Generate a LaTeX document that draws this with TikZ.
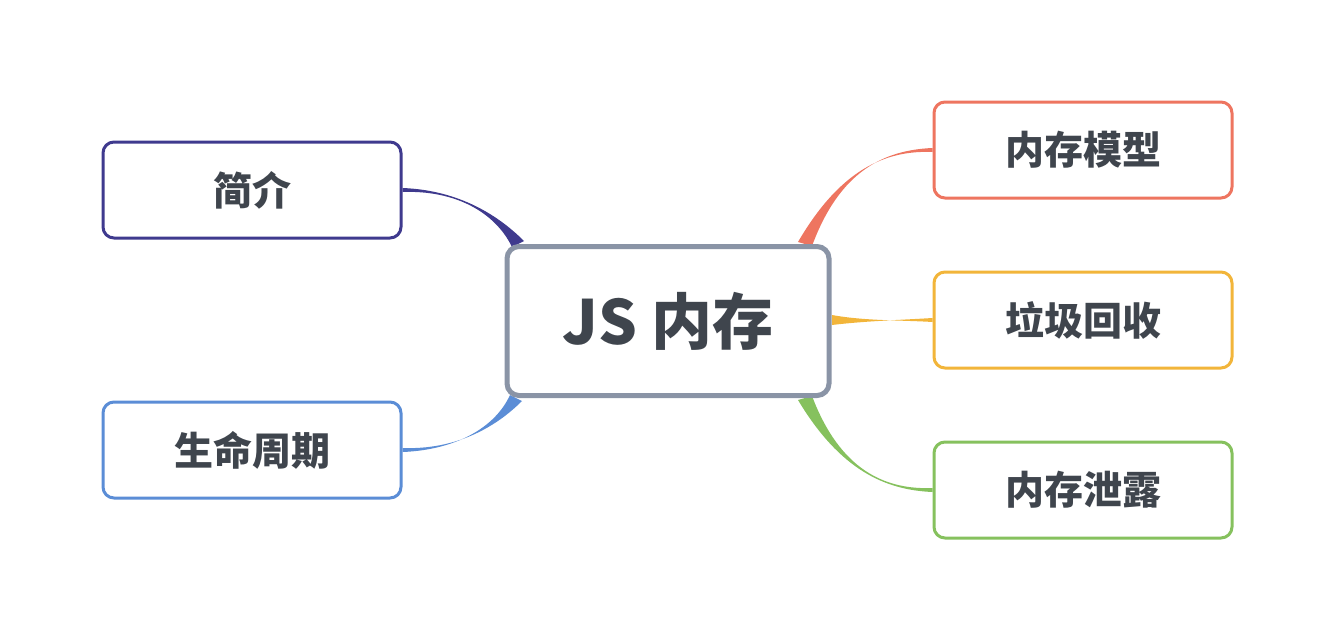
\documentclass[tikz,border=0pt]{standalone}
\usepackage{fontspec}
\setmainfont{Noto Sans CJK SC}
\usetikzlibrary{calc}
\definecolor{txt}{HTML}{3F454D}
\definecolor{core}{HTML}{8A94A6}
\definecolor{intro}{HTML}{3F3A8E}
\definecolor{life}{HTML}{5B8DD6}
\definecolor{model}{HTML}{EE7560}
\definecolor{gc}{HTML}{F2B53A}
\definecolor{leak}{HTML}{86C15E}
% tapered branch: colour, start, offset at start, c1, c2, end
\newcommand{\limb}[6]{%
  \fill[#1] ($#2+#3$) .. controls #4 and #5 .. ($#6+(0,-2)$) -- ($#6+(0,2)$)
    .. controls #5 and #4 .. ($#2-#3$) -- cycle;}
\begin{document}
\begin{tikzpicture}[x=1pt,y=-1pt,
		topic/.style={draw, line width=3pt, rounded corners=11pt, fill=white,
			minimum width=298pt, minimum height=96pt, text=txt, font=\bfseries\fontsize{39}{46}\selectfont},
		hub/.style={draw=core, line width=5pt, rounded corners=12pt, fill=white,
			minimum width=322pt, minimum height=149pt, text=txt, font=\bfseries\fontsize{61}{70}\selectfont}
	]
	\useasboundingbox (0,0) rectangle (1334,640);

	\coordinate (tl) at (518,244);
	\coordinate (bl) at (516,398);
	\coordinate (tr) at (805,244);
	\coordinate (br) at (805,398);
	\coordinate (r) at (832,320);

	\node[topic, draw=intro] at (252,190) (intro) {简介};
	\node[topic, draw=life] at (252,450) (life) {生命周期};
	\node[topic, draw=model] at (1083,150) (model) {内存模型};
	\node[topic, draw=gc] at (1083,320) (gc) {垃圾回收};
	\node[topic, draw=leak] at (1083,490) (leak) {内存泄露};

	\limb{intro}{(tl)}{(6,-3)}{(495,212)}{(455,190)}{(intro.east)}
	\limb{life}{(bl)}{(6,3)}{(495,428)}{(455,450)}{(life.east)}
	\limb{model}{(tr)}{(7,2)}{(840,170)}{(885,150)}{(model.west)}
	\limb{gc}{(r)}{(0,5)}{(865,321)}{(900,320)}{(gc.west)}
	\limb{leak}{(br)}{(7,-2)}{(840,470)}{(885,490)}{(leak.west)}

	\node[hub] at (668,321) (mem) {JS 内存};
\end{tikzpicture}
\end{document}
